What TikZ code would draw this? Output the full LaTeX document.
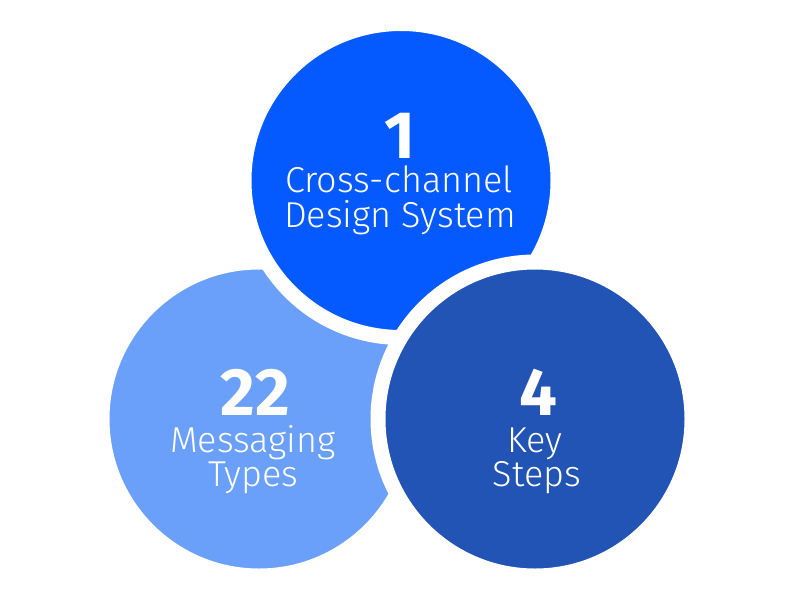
\documentclass[tikz,border=0pt]{standalone}
\usepackage{fontspec}
\setmainfont{Fira Sans}[UprightFont=* Light, BoldFont=* Bold]
\usepackage{tikz}
\usetikzlibrary{positioning}

\definecolor{topblue}{RGB}{5,90,255}
\definecolor{leftblue}{RGB}{106,160,250}
\definecolor{rightblue}{RGB}{34,84,181}

\tikzset{
	bubble/.style={circle, minimum size=314pt, inner sep=0pt, draw=white, line width=15pt},
	bignum/.style={anchor=base, inner sep=0pt, text depth=0pt, text=white, font=\bfseries\fontsize{67}{67}\selectfont},
	caption/.style={anchor=base, inner sep=0pt, text height=24pt, text=white, font=\fontsize{36}{36}\selectfont}
}

\begin{document}
\begin{tikzpicture}[x=1pt, y=-1pt]
	\useasboundingbox (0,0) rectangle (798,600);
	\node [bubble, fill=leftblue] at (259,419) (L) {};
	\node [bubble, fill=topblue] at (401,180.5) (T) {};
	\node [bubble, fill=rightblue] at (535,419) (R) {};
	\node [bignum] at (400,158) (Tnum) {1};
	\node [caption] at (399,192) (Tline1) {Cross-channel};
	\node [caption] at (400,227) (Tline2) {Design System};
	\node [bignum] at (255,415) (Lnum) {22};
	\node [caption] at (253,452) (Lline1) {Messaging};
	\node [caption] at (253.5,486) (Lline2) {Types};
	\node [bignum] at (538,415) (Rnum) {4};
	\node [caption] at (535,452) (Rline1) {Key};
	\node [caption] at (537,486) (Rline2) {Steps};
\end{tikzpicture}
\end{document}
